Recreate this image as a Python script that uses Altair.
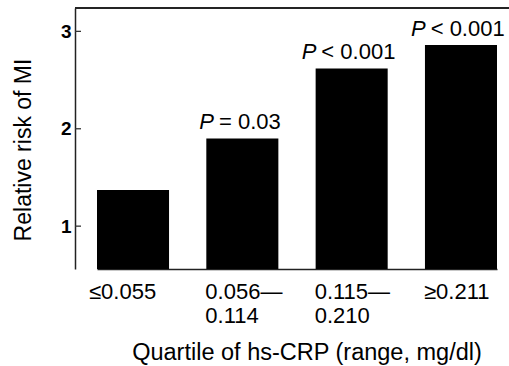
import altair as alt
import pandas as pd

# ---- data ----
categories = ["≤0.055", "0.056—\n0.114", "0.115—\n0.210", "≥0.211"]
relative_risk = [1.37, 1.90, 2.62, 2.86]
p_operator = ["", "=", "<", "<"]
p_value = ["", "0.03", "0.001", "0.001"]
y_ticks = [1, 2, 3]

FONT = "Liberation Sans"

df = pd.DataFrame({"cat": categories, "rr": relative_risk, "op": p_operator, "pv": p_value})
tick_df = pd.DataFrame({"rr": y_ticks})

x_scale = alt.Scale(range=[22, 422], paddingInner=0.341, paddingOuter=0)
y_scale = alt.Scale(domain=[0.56, 3.24], nice=False, zero=False)

x_enc = alt.X(
    "cat:N",
    sort=categories,
    scale=x_scale,
    axis=alt.Axis(
        title="Quartile of hs-CRP (range, mg/dl)",
        labelExpr="split(datum.label, '\\n')",
        labelAngle=0,
        labelAlign="left",
        labelOffset={
            "condition": {"test": f"datum.value === '{categories[0]}'", "value": -44},
            "value": -37,
        },
        labelBaseline="alphabetic",
        labelPadding=29,
        labelLineHeight=24,
        labelFontSize=22,
        labelFont=FONT,
        labelColor="black",
        labelOverlap=False,
        labelLimit=300,
        ticks=False,
        tickSize=0,
        domain=True,
        domainColor="#222",
        domainWidth=1.5,
        titleFont=FONT,
        titleFontSize=23.5,
        titleFontWeight="normal",
        titleColor="black",
        titleX=231.5,
        titleY=90,
        titleAlign="center",
        titleBaseline="alphabetic",
        grid=False,
    ),
)

y_enc = alt.Y(
    "rr:Q",
    scale=y_scale,
    axis=alt.Axis(
        values=y_ticks,
        title="Relative risk of MI",
        ticks=False,
        tickSize=0,
        labelPadding=4,
        labelFontSize=19,
        labelFontWeight="bold",
        labelFont=FONT,
        labelColor="black",
        labelAlign="right",
        labelBaseline="middle",
        domain=True,
        domainColor="#222",
        domainWidth=1.5,
        grid=False,
        titleFont=FONT,
        titleFontSize=23,
        titleFontWeight="normal",
        titleColor="black",
        titleAngle=270,
        titleX=-45,
        titleY=141.5,
        titleAlign="center",
        titleBaseline="alphabetic",
    ),
)

bars = alt.Chart(df).mark_bar(color="black", clip=True).encode(x=x_enc, y=y_enc)

inner_ticks = alt.Chart(tick_df).mark_rule(color="#333", strokeWidth=1.3).encode(
    y=y_enc,
    x=alt.value(0),
    x2=alt.value(6),
)

top_line = alt.Chart(tick_df).mark_rule(color="#222", strokeWidth=1.5).encode(
    y=alt.value(0),
    x=alt.value(0),
    x2=alt.value(434),
)


def p_layers(op, shift):
    base = alt.Chart(df).transform_filter(alt.datum.op == op)
    p_text = base.mark_text(
        text="P", font=FONT, fontSize=22, fontStyle="italic", align="right",
        baseline="alphabetic", dx=shift, dy=-9.5, color="black",
    ).encode(x=x_enc, y=y_enc)
    rest = base.transform_calculate(
        rest="datum.op + '\u00a0' + datum.pv"
    ).mark_text(
        font=FONT, fontSize=22, align="left", baseline="alphabetic",
        dx=shift + 5, dy=-9.5, color="black",
    ).encode(text="rest:N", x=x_enc, y=y_enc)
    return [p_text, rest]


layers = [bars, inner_ticks, top_line] + p_layers("=", -28.3) + p_layers("<", -35.3)

chart = alt.layer(*layers).properties(
    width=434,
    height=261,
    autosize=alt.AutoSizeParams(type="none"),
    padding={"left": 75, "top": 8, "right": 0, "bottom": 97},
    background="white",
).configure_view(stroke=None)

chart.save("out.html", embed_options={"renderer": "svg", "actions": False})
